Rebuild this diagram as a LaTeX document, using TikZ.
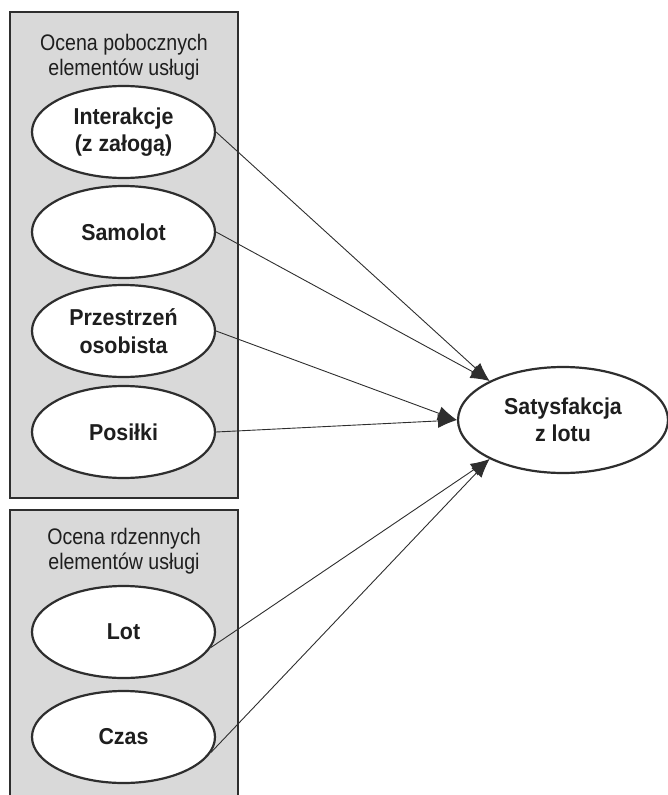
\documentclass[tikz,border=0pt]{standalone}
\usepackage{fontspec}
\setmainfont{Liberation Sans}
\newfontfamily\narrowsans[FakeStretch=0.87]{Liberation Sans}
\newfontfamily\labelsans[FakeStretch=0.93]{Liberation Sans}
\usetikzlibrary{shapes.geometric,arrows.meta}
\definecolor{boxfill}{HTML}{D9D9D9}
\definecolor{edge}{HTML}{2E2E2E}
\definecolor{ink}{HTML}{1E1E1E}
\begin{document}
\begin{tikzpicture}[x=1pt,y=-1pt,
  groupbox/.style={draw=edge,line width=2.6pt,fill=boxfill},
  title/.style={text=ink,align=center,font=\narrowsans\fontsize{22.5}{25.5}\selectfont,inner sep=0pt},
  factor/.style={ellipse,draw=edge,line width=2.2pt,fill=white,minimum width=183pt,minimum height=92pt,inner sep=0pt,align=center,text=ink,font=\labelsans\bfseries\fontsize{23}{27.5}\selectfont},
  outcome/.style={factor,minimum width=210pt,minimum height=106pt},
  link/.style={draw=edge,line width=0.9pt,-{Latex[length=19pt,width=14pt]}}]
\useasboundingbox (0,0) rectangle (668,795);
\clip (0,0) rectangle (668,795);
\path[groupbox] (10,12) rectangle (238,498);
\path[groupbox] (10,510) rectangle (238,820);
\node[title] (t1) at (124,57) {Ocena pobocznych\\elementów usługi};
\node[title] (t2) at (124,551) {Ocena rdzennych\\elementów usługi};
\node[factor] (a) at (123.5,132) {Interakcje\\(z załogą)};
\node[factor] (b) at (123.5,232) {Samolot};
\node[factor] (c) at (123.5,331) {Przestrzeń\\osobista};
\node[factor] (d) at (123.5,432) {Posiłki};
\node[factor] (e) at (123.5,632) {Lot};
\node[factor] (f) at (123.5,737) {Czas};
\node[outcome] (s) at (563,420) {Satysfakcja\\z lotu};
\draw[link] (a.east) -- (s.152);
\draw[link] (b.east) -- (s.152);
\draw[link] (c.east) -- (s.west);
\draw[link] (d.east) -- (s.west);
\draw[link] (e.-10) -- (s.208);
\draw[link] (f.-10) -- (s.208);
\end{tikzpicture}
\end{document}
